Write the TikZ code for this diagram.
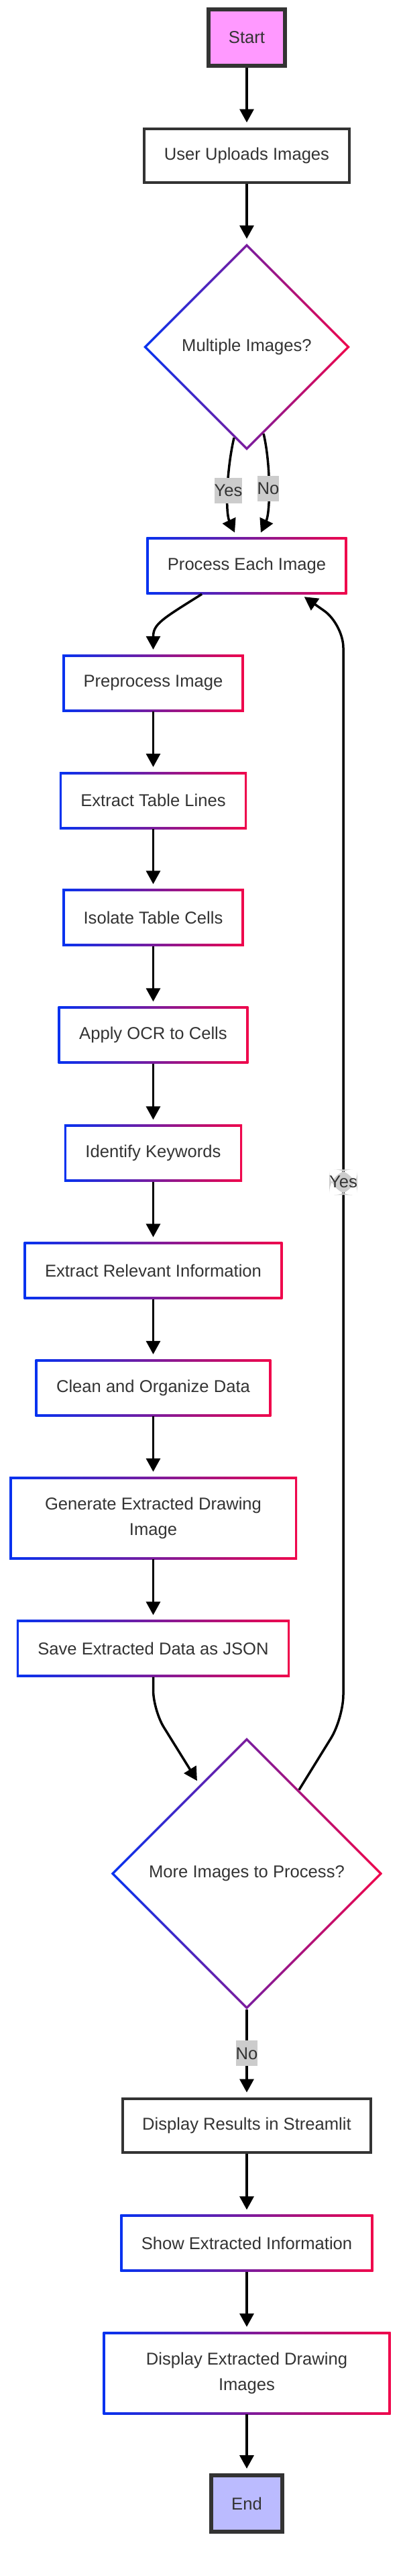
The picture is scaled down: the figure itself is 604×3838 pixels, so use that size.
\documentclass[tikz,border=0pt]{standalone}
\usepackage{fontspec}
\setmainfont{Liberation Sans}
\usetikzlibrary{arrows.meta,shapes.geometric}

\definecolor{gblue}{RGB}{5,50,240}
\definecolor{gred}{RGB}{240,5,75}
\definecolor{txt}{RGB}{51,51,51}
\definecolor{startfill}{RGB}{255,153,255}
\definecolor{endfill}{RGB}{187,187,255}
\definecolor{lblfill}{RGB}{204,204,204}

\begin{document}
\begin{tikzpicture}[
	x=1pt, y=1pt,
	font=\fontsize{25.6}{38}\selectfont,
	gbox/.style={
		rectangle,
		text=txt,
		fill=white,
		align=center,
		minimum height=85pt,
		inner xsep=31.5pt,
		path picture={
			\shade[left color=gblue, right color=gred] (path picture bounding box.south west) rectangle (path picture bounding box.north east);
			\fill[white] ([shift={(3.5pt,3.5pt)}]path picture bounding box.south west) rectangle ([shift={(-3.5pt,-3.5pt)}]path picture bounding box.north east);
		},
	},
	pbox/.style={
		rectangle,
		text=txt,
		fill=white,
		draw=txt,
		line width=4pt,
		align=center,
		minimum height=80pt,
		inner xsep=29.5pt,
	},
	term/.style={
		rectangle,
		text=txt,
		draw=txt,
		line width=6pt,
		minimum height=84pt,
		inner xsep=30pt,
	},
	dec/.style={
		diamond,
		aspect=1,
		text=txt,
		fill=white,
		inner sep=0pt,
		path picture={
			\shade[left color=gblue, right color=gred] (path picture bounding box.south west) rectangle (path picture bounding box.north east);
			\fill[white] ([yshift=-5pt]path picture bounding box.north) -- ([xshift=-5pt]path picture bounding box.east) -- ([yshift=5pt]path picture bounding box.south) -- ([xshift=5pt]path picture bounding box.west) -- cycle;
		},
	},
	arr/.style={
		-{Triangle[width=21pt,length=20pt]},
		line width=3.5pt,
		shorten >=7pt,
	},
	lbl/.style={
		fill=lblfill,
		text=txt,
		inner xsep=0pt,
		inner ysep=0pt,
		minimum height=38pt,
	},
]

\useasboundingbox (0,0) rectangle (604,-3838);

\node[term, fill=startfill] (st) at (368,-56) {Start};
\node[pbox] (up) at (368,-231.5) {User Uploads Images};
\node[dec, minimum size=308pt] (dm) at (368,-517) {Multiple Images?};
\node[gbox] (pe) at (368,-842.5) {Process Each Image};

\node[gbox] (pp) at (228.5,-1017.5) {Preprocess Image};
\node[gbox] (tl) at (228.5,-1192.5) {Extract Table Lines};
\node[gbox] (tc) at (228.5,-1367) {Isolate Table Cells};
\node[gbox] (ocr) at (228.5,-1542) {Apply OCR to Cells};
\node[gbox] (kw) at (228.5,-1718) {Identify Keywords};
\node[gbox] (ri) at (228.5,-1893) {Extract Relevant Information};
\node[gbox] (cd) at (228.5,-2067.5) {Clean and Organize Data};
\node[gbox, minimum width=429pt, minimum height=123pt] (gd) at (228.5,-2261.5) {Generate Extracted Drawing\\ Image};
\node[gbox] (sv) at (228.5,-2456) {Save Extracted Data as JSON};

\node[dec, minimum size=405pt] (dc) at (368,-2791.5) {More Images to Process?};
\node[pbox] (dr) at (368,-3166.5) {Display Results in Streamlit};
\node[gbox] (se) at (368,-3342) {Show Extracted Information};
\node[gbox, minimum width=429pt, minimum height=123pt] (di) at (368,-3535.5) {Display Extracted Drawing\\ Images};
\node[term, fill=endfill] (en) at (368,-3730) {End};

\draw[arr] (st.south) -- (up.north);
\draw[arr] (up.south) -- (dm.north);
\draw[arr] (dm.-98) .. controls +(-103:50) and +(115:40) .. ([xshift=-15pt]pe.north) node[lbl, pos=0.5] {Yes};
\draw[arr] (dm.-79) .. controls +(-77:50) and +(65:40) .. ([xshift=18pt]pe.north) node[lbl, pos=0.5] {No};
\draw[arr] ([xshift=-67pt]pe.south) .. controls +(-148:70) and +(90:45) .. (pp.north);

\draw[arr] (pp.south) -- (tl.north);
\draw[arr] (tl.south) -- (tc.north);
\draw[arr] (tc.south) -- (ocr.north);
\draw[arr] (ocr.south) -- (kw.north);
\draw[arr] (kw.south) -- (ri.north);
\draw[arr] (ri.south) -- (cd.north);
\draw[arr] (cd.south) -- (gd.north);
\draw[arr] (gd.south) -- (sv.north);

\draw[arr, rounded corners=30pt] (sv.south) -- (228.5,-2548) -- (dc.118);
\draw[arr, rounded corners=35pt] (dc.58) -- (512,-2560) -- node[lbl, pos=0.49] {Yes} (512,-930) -- ([xshift=80pt]pe.south);

\draw[arr] (dc.south) -- node[lbl] {No} (dr.north);
\draw[arr] (dr.south) -- (se.north);
\draw[arr] (se.south) -- (di.north);
\draw[arr] (di.south) -- (en.north);

\end{tikzpicture}
\end{document}
